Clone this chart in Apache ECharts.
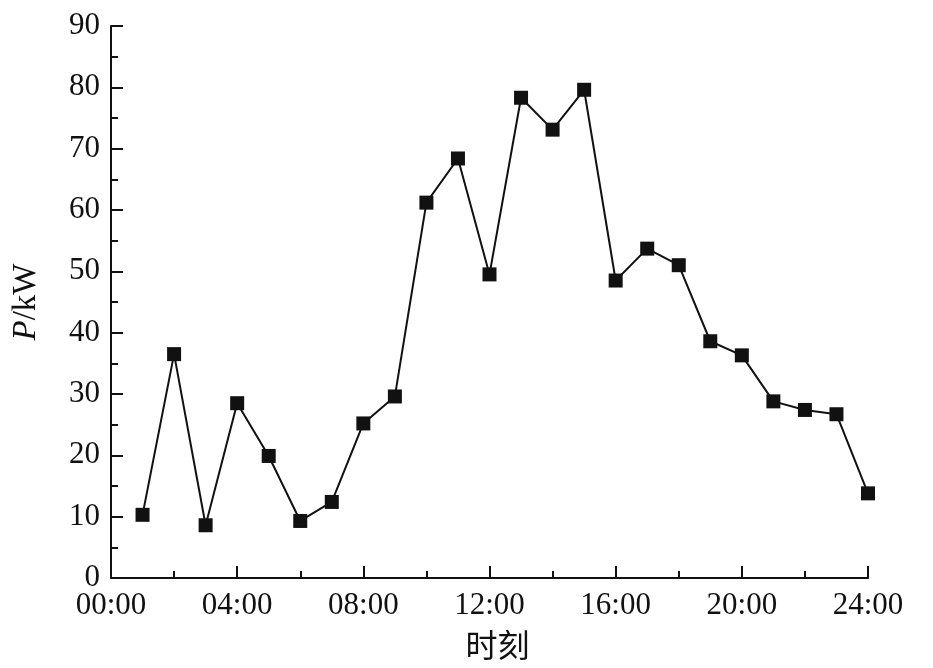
<!DOCTYPE html>
<html><head><meta charset="utf-8">
<script src="https://cdn.jsdelivr.net/npm/echarts@6/dist/echarts.min.js"></script>
<style>html,body{margin:0;padding:0;background:#fff}#c{width:933px;height:668px}
.w{position:absolute;left:0;top:0;color:#fff;font-size:31px;z-index:-1}</style>
</head><body>
<span class="w" style="font-family:'Liberation Serif'">00:00 P/kW</span>
<span class="w" style="font-family:'Liberation Serif';font-style:italic">P</span>
<span class="w" style="font-family:'Noto Sans CJK SC'">时刻</span>
<div id="c"></div>
<script>
const hours = [1,2,3,4,5,6,7,8,9,10,11,12,13,14,15,16,17,18,19,20,21,22,23,24];
const power = [10.3,36.5,8.6,28.5,19.9,9.3,12.4,25.2,29.6,61.2,68.4,49.5,78.3,73.1,79.6,48.5,53.7,51.0,38.6,36.3,28.8,27.4,26.7,13.8];
const xTickLabels = ['00:00','04:00','08:00','12:00','16:00','20:00','24:00'];
const yTicks = [0,10,20,30,40,50,60,70,80,90];

const font = 'Liberation Serif';
function buildOption(){
  return {
  animation:false,
  graphic:[{type:'text',left:2,top:640,silent:true,style:{text:'00:00 P/kW',font:'31px Liberation Serif',fill:'#fff'}},
           {type:'text',left:2,top:640,silent:true,style:{text:'P',font:'italic 33px Liberation Serif',fill:'#fff'}}],
  grid:{left:111,right:65,top:26,bottom:90},
  xAxis:{type:'value',min:0,max:24,interval:4,
    name:'时刻',nameLocation:'middle',nameGap:51,
    nameTextStyle:{fontFamily:'Noto Sans CJK SC',fontSize:32,color:'#111',padding:[0,0,0,16]},
    axisLine:{lineStyle:{color:'#111',width:2}},
    axisTick:{inside:true,length:12,lineStyle:{color:'#111',width:2}},
    minorTick:{show:true,splitNumber:2,length:7,lineStyle:{color:'#111',width:2}},
    splitLine:{show:false},
    axisLabel:{margin:12,color:'#111',
      formatter:v=>'{a|'+xTickLabels[v/4]+'}',rich:{a:{fontFamily:font,fontSize:31,color:'#111'}}}},
  yAxis:{type:'value',min:0,max:90,interval:10,
    name:'{i|P}{n|/kW}',nameLocation:'middle',nameGap:68,
    nameTextStyle:{rich:{i:{fontFamily:font,fontStyle:'italic',fontSize:33,color:'#111'},n:{fontFamily:font,fontSize:33,color:'#111'}}},
    axisLine:{show:true,lineStyle:{color:'#111',width:2}},
    axisTick:{inside:true,length:12,lineStyle:{color:'#111',width:2}},
    minorTick:{show:true,splitNumber:2,length:7,lineStyle:{color:'#111',width:2}},
    splitLine:{show:false},
    axisLabel:{margin:11,fontFamily:font,fontSize:31,color:'#111',
      formatter:v=>String(yTicks[v/10])}},
  series:[{type:'line',data:hours.map((h,i)=>[h,power[i]]),
    symbol:'rect',symbolSize:14,
    itemStyle:{color:'#111'},lineStyle:{color:'#111',width:2}}]
  };
}
const el = document.getElementById('c');
let chart = echarts.init(el);
chart.setOption(buildOption());
function rerender(){
  chart.dispose();
  chart = echarts.init(el);
  chart.setOption(buildOption());
}
[60,200,450,800,1300].forEach(t=>setTimeout(rerender,t));
</script></body></html>
